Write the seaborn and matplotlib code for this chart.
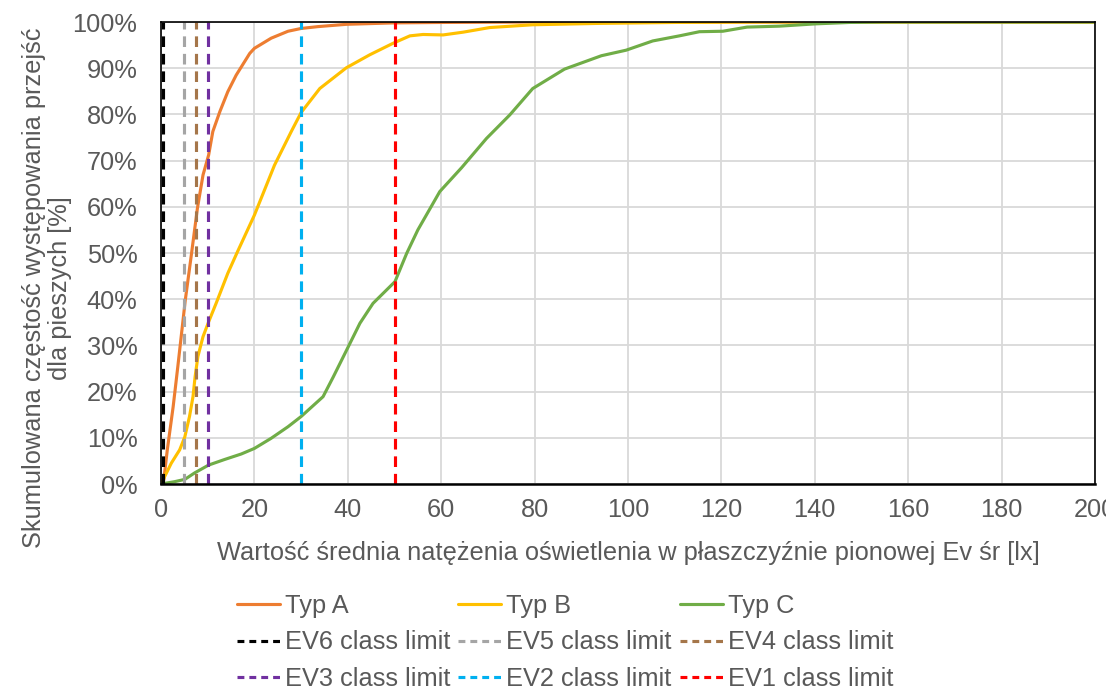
import matplotlib
matplotlib.use("Agg")
import matplotlib.pyplot as plt
from matplotlib.lines import Line2D
from matplotlib.ticker import FuncFormatter
import seaborn as sns

# Cumulative share of pedestrian crossings vs. mean vertical illuminance
typ_a_x = [0, 0.6, 1.35, 2.6, 3.6, 5.2, 6.5, 7.8, 9.0, 10.2, 11.1, 12.6, 14.3, 16.1,
           19.0, 20.0, 23.6, 27.2, 30.0, 33.6, 39.7, 49.6, 60, 80, 100, 150, 200]
typ_a_y = [0, 0.9, 7.4, 16.7, 25.4, 39.8, 49.6, 59.7, 66.9, 71.2, 76.3, 80.6, 84.9, 88.5,
           93.2, 94.3, 96.5, 98.0, 98.6, 99.0, 99.5, 99.8, 99.9, 100, 100, 100, 100]

typ_b_x = [0, 2.2, 4.0, 5.1, 6.1, 6.85, 7.3, 7.9, 9.0, 10.2, 11.8, 14.3, 16.3, 20.0,
           24.3, 27.9, 30.0, 34.0, 39.7, 44.7, 49.7, 53.3, 56.1, 60.4, 64.7, 70.4,
           79.6, 93.9, 110, 130, 150, 200]
typ_b_y = [0, 4.5, 7.4, 10.2, 14.6, 18.9, 23.2, 27.6, 31.9, 35.1, 39.1, 45.6, 50.1, 58.2,
           69.0, 76.3, 80.4, 85.6, 90.1, 92.9, 95.4, 97.0, 97.3, 97.2, 97.8, 98.8,
           99.4, 99.7, 99.9, 100, 100, 100]

typ_c_x = [0, 2.9, 5.1, 7.2, 10.2, 13.6, 17.2, 20.0, 23.6, 27.2, 30.0, 34.7, 36.9, 40.1,
           42.6, 45.4, 50.1, 52.6, 55.0, 59.7, 64.4, 69.7, 74.7, 79.6, 86.4, 94.3, 99.6,
           105.3, 111.0, 115.3, 120.3, 125.5, 132.4, 140.2, 147.4, 155, 200]
typ_c_y = [0, 0.5, 1.0, 2.4, 4.1, 5.3, 6.5, 7.7, 9.9, 12.4, 14.6, 18.9, 23.2, 29.7,
           34.8, 39.1, 43.8, 49.9, 55.0, 63.3, 68.5, 74.8, 79.9, 85.6, 89.8, 92.7, 93.9,
           95.9, 97.0, 97.9, 98.0, 98.9, 99.1, 99.6, 99.9, 100, 100]

series_labels = ["Typ A", "Typ B", "Typ C"]
series_colors = ["#ED7D31", "#FFC000", "#70AD47"]

# EV class limits [lx]
class_limits = [0.5, 5, 7.5, 10, 30, 50]
class_labels = ["EV6 class limit", "EV5 class limit", "EV4 class limit",
                "EV3 class limit", "EV2 class limit", "EV1 class limit"]
class_colors = ["#000000", "#A5A5A5", "#A5764A", "#7030A0", "#00B0F0", "#FF0000"]

x_ticks = list(range(0, 201, 20))
y_ticks = list(range(0, 101, 10))

sns.set_theme(style="white")
plt.rcParams["font.family"] = ["Liberation Sans", "DejaVu Sans"]

text_color = "#595959"
fs = 18.3

fig = plt.figure(figsize=(11.06, 6.91), dpi=100)
ax = fig.add_axes([161 / 1106, 1 - 484 / 691, (1095 - 161) / 1106, (484 - 22) / 691])

handles = []
for xs, ys, lab, col in zip([typ_a_x, typ_b_x, typ_c_x], [typ_a_y, typ_b_y, typ_c_y],
                            series_labels, series_colors):
    sns.lineplot(x=xs, y=ys, ax=ax, color=col, linewidth=2.25, estimator=None,
                 sort=False, legend=False)
    handles.append(Line2D([], [], color=col, linewidth=2.25, label=lab))

dash = (0, (3.4, 2.2))
for v, lab, col in zip(class_limits, class_labels, class_colors):
    ax.axvline(v, color=col, linewidth=2.25, linestyle=dash)
    handles.append(Line2D([], [], color=col, linewidth=2.25, linestyle=(0, (2.2, 1.6)),
                          label=lab))

ax.set_xlim(0, 200)
ax.set_ylim(0, 100)
ax.set_xticks(x_ticks)
ax.set_yticks(y_ticks)
ax.yaxis.set_major_formatter(FuncFormatter(lambda v, p: f"{int(v)}%"))
ax.grid(True, color="#D9D9D9", linewidth=1.3)
ax.set_axisbelow(True)
ax.tick_params(axis="both", length=0, labelsize=fs, labelcolor=text_color)
ax.tick_params(axis="y", pad=17)
ax.tick_params(axis="x", pad=10)

for side in ["top", "right", "left"]:
    ax.spines[side].set_visible(True)
    ax.spines[side].set_color("#000000")
    ax.spines[side].set_linewidth(1.2)
ax.spines["bottom"].set_color("#000000")
ax.spines["bottom"].set_linewidth(1.8)

ax.set_xlabel("Wartość średnia natężenia oświetlenia w płaszczyźnie pionowej Ev śr [lx]",
              fontsize=fs, color=text_color, labelpad=14)
fig.text(47 / 1106, 1 - 288 / 691,
         "Skumulowana częstość występowania przejść\ndla pieszych [%]",
         rotation=90, ha="center", va="center", multialignment="center",
         fontsize=fs, color=text_color, linespacing=1.1)

# legend: three rows laid out column-wise
order = [0, 3, 6, 1, 4, 7, 2, 5, 8]
ordered = [handles[i] for i in order]
leg = fig.legend(handles=ordered, loc="upper center", ncol=3,
                 bbox_to_anchor=(565 / 1106, 1 - 581 / 691), frameon=False,
                 fontsize=fs, handlelength=1.7, handletextpad=0.2,
                 columnspacing=0.3, labelspacing=0.5, borderpad=0)
for t in leg.get_texts():
    t.set_color(text_color)

fig.savefig("out.png", dpi=100)
